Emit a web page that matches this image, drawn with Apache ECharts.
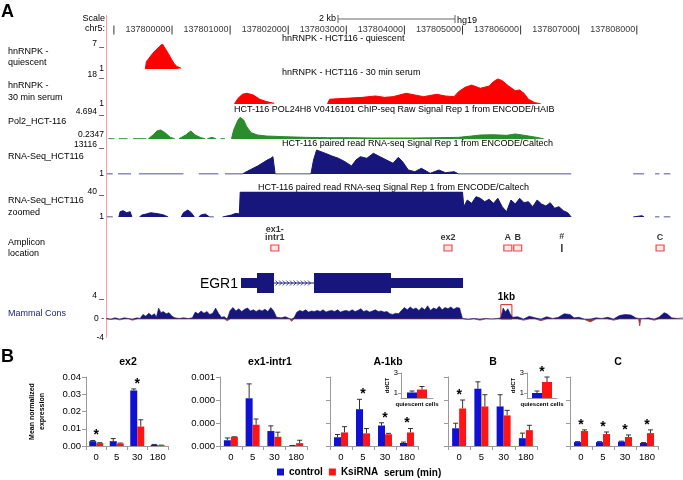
<!DOCTYPE html>
<html><head><meta charset="utf-8">
<script src="https://cdn.jsdelivr.net/npm/echarts@6/dist/echarts.min.js"></script>
<style>html,body{margin:0;padding:0;background:#fff}#c{width:683px;height:480px}</style>
</head><body><div id="c"></div>
<script>
// ================= DATA =================
// genome positions are in kb relative to chr5:137,800,000 (hg19)
const rulerTicksKb = [-1, 0, 1, 2, 3, 4, 5, 6, 7, 8];
const rulerLabels = ['', '137800000', '137801000', '137802000', '137803000', '137804000', '137805000', '137806000', '137807000', '137808000'];
const scaleBarKb = [2.857, 4.871];

const quiescentSegments = [
  [[-0.458,1],[-0.442,2.75],[-0.330,4.8],[-0.217,6.4],[-0.165,7],[-0.067,4.8],[0.031,2.4],[0.084,1.6],[0.158,1.2]]
];
const serum30Segments = [
  [[1.076,1.2],[1.136,4.3],[1.212,6.7],[1.286,7.3],[1.399,6.3],[1.511,3.8],[1.625,2.4],[1.759,1.4]],
  [[2.676,1.2],[2.714,3.8],[2.978,4.3],[3.277,4.9],[3.503,5.7],[3.654,4.9],[3.804,5.3],[4.030,7.3],[4.179,6.3],[4.331,5.3],[4.556,6.7],[4.706,5.7],[4.855,5.3],[4.931,8.2],[5.045,10.8],[5.157,12.1],[5.306,10.2],[5.458,11.5],[5.532,14.1],[5.607,15.7],[5.683,14.7],[5.795,11.5],[5.908,8.8],[5.984,9.2],[6.058,7.3],[6.134,3.8],[6.246,1.8],[6.344,1.2]]
];
const pol2Segments = [
  [[-1.096,0.28],[-0.991,0.28]],
  [[-0.916,0.28],[-0.765,0.28]],
  [[-0.668,0.28],[-0.442,0.28]],
  [[-0.405,0.28],[-0.329,0.89],[-0.254,1.6],[-0.194,1.72],[-0.119,1.27],[-0.029,0.51],[0.046,0.28]],
  [[0.121,0.28],[0.234,0.89],[0.324,1.55],[0.400,0.89],[0.497,0.45],[0.572,0.28]],
  [[0.610,0.28],[0.685,0.51],[0.760,0.28]],
  [[0.836,0.28],[0.911,0.28]],
  [[1.023,0.28],[1.061,1.72],[1.136,3.37],[1.174,3.81],[1.234,3.37],[1.287,2.26],[1.362,1.27],[1.474,0.89],[1.625,0.73],[1.925,0.62],[2.301,0.51],[2.677,0.45],[3.053,0.45],[3.429,0.40],[3.804,0.40],[4.180,0.40],[4.556,0.45],[4.932,0.51],[5.157,0.73],[5.308,0.89],[5.533,0.94],[5.758,0.84],[5.909,1.06],[6.059,0.84],[6.209,0.62],[6.397,0.28]]
];
const rnaSeqSegments = [
  [[-1.119,1],[-1.021,1]],
  [[-0.931,1],[-0.705,1]],
  [[-0.570,1],[0.197,1]],
  [[0.460,1],[0.798,1]],
  [[0.911,1],[1.211,1],[1.249,588],[1.362,2125],[1.474,3617],[1.550,4837],[1.640,6330],[1.700,7090],[1.737,7820],[1.760,7548],[1.775,1],[2.391,1],[2.436,6330],[2.489,10850],[2.564,10080],[2.639,9350],[2.752,8140],[2.865,7090],[2.978,5560],[3.090,3617],[3.166,6330],[3.241,7820],[3.353,7090],[3.466,9350],[3.579,7820],[3.692,6330],[3.804,4837],[3.895,7548],[3.970,5560],[4.067,1808],[4.180,1040],[4.293,2580],[4.443,300],[4.594,1808],[4.706,588],[4.857,1040],[4.932,1],[6.871,1]],
  [[7.938,1],[8.126,1]],
  [[8.314,1],[8.389,1]],
  [[8.464,1],[8.577,1]]
];
const rnaSeqZoomSegments = [
  [[-1.12,1],[-1.02,1]],
  [[-0.915,1],[-0.893,9.3],[-0.841,10.8],[-0.780,7.7],[-0.720,9.3],[-0.690,1]],
  [[-0.560,1],[-0.517,4.1],[-0.442,5.7],[-0.367,7.7],[-0.292,6.7],[-0.217,5.7],[-0.141,4.1],[-0.066,1]],
  [[0.159,1],[0.197,7.7],[0.272,11.9],[0.332,7.7],[0.385,1]],
  [[0.460,1],[0.497,4.1],[0.572,5.7],[0.648,1],[0.720,1]],
  [[0.870,1],[1.023,4.1],[1.099,6.7],[1.159,5.7],[1.174,40],[5.000,40],[5.022,17.1],[5.082,27.5],[5.157,22.3],[5.232,32.7],[5.308,30.1],[5.383,24.9],[5.458,28.6],[5.533,22.3],[5.608,30.1],[5.683,17.1],[5.758,9.3],[5.834,27.5],[5.909,21.3],[5.984,30.1],[6.059,23.3],[6.134,24.9],[6.209,17.1],[6.285,27.5],[6.360,21.3],[6.435,18.2],[6.510,23.3],[6.585,14.6],[6.660,17.1],[6.736,10.8],[6.811,7.7],[6.871,1]],
  [[7.938,1],[7.960,4.1],[8.088,3],[8.126,1]],
  [[8.314,1],[8.389,1]],
  [[8.464,1],[8.577,1]]
];
const ampliconNames = ['ex1-\nintr1', 'ex2', 'A', 'B', '#', 'C'];
const ampliconKb = [1.77, 4.75, 5.78, 5.95, 6.71, 8.40];
// EGR1 gene model: [startKb, endKb, kind] kind 0 = UTR, 1 = coding exon, 2 = intron
const egr1Parts = [[1.188,1.463,0],[1.463,1.756,1],[1.756,2.444,2],[2.444,3.769,1],[3.769,5.009,0]];
const consSignal = [[-1.13,0.1],[-1.05,-0.1],[-0.98,0.2],[-0.9,-0.15],[-0.82,0.2],[-0.75,0.1],[-0.68,-0.2],[-0.6,0.2],[-0.55,0.1],
  [-0.5,0.8],[-0.45,0.5],[-0.4,1.0],[-0.35,0.6],[-0.3,0.9],[-0.27,0.3],[-0.23,1.9],[-0.19,1.1],[-0.15,1.3],[-0.1,0.9],[-0.05,1.1],[0.0,0.5],[0.05,0.2],[0.12,0.1],[0.2,0.2],[0.28,0.1],[0.35,0.2],
  [0.4,1.2],[0.45,0.9],[0.5,1.4],[0.55,1.0],[0.6,1.3],[0.65,0.8],[0.7,1.0],[0.75,1.9],[0.8,1.0],[0.85,0.3],[0.9,0.4],[0.95,-0.3],
  [1.0,1.5],[1.05,2.0],[1.1,1.4],[1.15,1.8],[1.2,1.3],[1.25,1.7],[1.3,1.9],[1.35,1.4],[1.4,1.6],[1.45,1.3],[1.5,1.6],[1.55,1.4],[1.6,1.7],[1.65,1.3],[1.7,2.0],[1.75,1.4],
  [1.8,0.3],[1.88,0.2],[1.95,0.4],[2.02,0.1],[2.06,-0.4],[2.1,0.2],
  [2.15,1.2],[2.2,1.5],[2.25,1.3],[2.3,1.6],[2.35,1.2],[2.4,1.4],[2.45,1.3],[2.5,1.5],[2.55,1.3],[2.6,1.6],[2.65,1.2],[2.7,1.4],[2.75,1.5],[2.8,1.3],[2.85,1.6],[2.9,1.2],[2.95,1.4],[3.0,1.5],[3.05,1.3],[3.1,1.6],[3.15,1.3],[3.2,1.5],[3.25,1.8],[3.3,1.3],[3.35,1.5],[3.4,1.2],[3.45,1.4],[3.5,1.6],[3.55,1.3],[3.6,1.4],[3.65,1.2],[3.7,1.3],[3.75,0.9],[3.8,0.8],[3.85,1.0],[3.9,0.9],
  [3.96,1.6],[4.0,2.0],[4.05,1.6],[4.1,2.1],[4.15,1.7],[4.2,1.9],[4.25,1.5],[4.3,2.0],[4.35,1.6],[4.4,2.3],[4.45,1.5],[4.5,1.9],[4.55,1.7],[4.6,2.2],[4.65,1.6],[4.7,2.0],[4.75,1.8],[4.8,2.1],[4.85,1.7],[4.9,2.0],[4.95,1.9],
  [5.0,0.1],[5.1,-0.1],[5.2,0.1],[5.3,-0.2],[5.4,0.1],[5.5,0.0],[5.6,0.1],[5.66,0.2],
  [5.7,1.9],[5.74,1.2],[5.78,1.8],[5.82,0.9],[5.86,0.3],
  [5.95,0.4],[6.05,-0.2],[6.15,0.5],[6.25,0.2],[6.35,-0.3],[6.45,0.4],[6.55,0.1],[6.65,0.3],
  [6.75,0.9],[6.85,0.8],[6.92,0.2],[7.0,0.3],[7.1,-0.1],[7.2,-0.5],[7.3,0.2],[7.4,0.1],[7.5,0.3],[7.6,-0.2],
  [7.7,0.6],[7.8,0.8],[7.9,0.7],[7.98,0.2],[8.03,0.1],[8.05,-1.2],[8.07,0.1],[8.12,0.1],[8.2,0.2],[8.3,-0.2],[8.38,0.3],[8.47,1.1],[8.52,0.9],[8.6,0.2],[8.7,0.1],[8.8,0.2]];
const oneKbRegion = [5.66, 5.85];
const oneKbPeak = 2.5;

// ---- panel B: qPCR ----
const timeCats = ['0', '5', '30', '180'];
const ex2Control = [0.0028, 0.0028, 0.0322, 0.0007];
const ex2ControlErr = [0.0032, 0.0043, 0.0331, 0.0009];
const ex2KsiRNA = [0.0017, 0.0015, 0.0113, 0.0004];
const ex2KsiRNAErr = [0.0019, 0.0017, 0.0152, 0.0005];
const ex2Sig = ['0', '30'];
const ex1Control = [0.0001, 0.00083, 0.00026, 0.00001];
const ex1ControlErr = [0.00014, 0.00108, 0.00035, 0.00001];
const ex1KsiRNA = [0.00016, 0.00037, 0.00016, 0.00005];
const ex1KsiRNAErr = [0.00016, 0.00047, 0.00024, 0.0001];
const ex1Sig = [];
const a1kbControl = [0.38, 1.6, 0.89, 0.13];
const a1kbControlErr = [0.5, 2.03, 1.01, 0.17];
const a1kbKsiRNA = [0.59, 0.55, 0.51, 0.59];
const a1kbKsiRNAErr = [0.84, 0.76, 0.55, 0.76];
const a1kbSig = ['5', '30', '180'];
const bControl = [0.77, 2.49, 1.72, 0.34];
const bControlErr = [0.99, 2.79, 2.23, 0.56];
const bKsiRNA = [1.63, 1.72, 1.33, 0.69];
const bKsiRNAErr = [2.0, 2.23, 1.55, 0.9];
const bSig = ['0'];
const cControl = [0.17, 0.17, 0.19, 0.13];
const cControlErr = [0.19, 0.19, 0.21, 0.15];
const cKsiRNA = [0.65, 0.52, 0.39, 0.56];
const cKsiRNAErr = [0.7, 0.61, 0.48, 0.7];
const cSig = ['0', '5', '30', '180'];
const insetCats = ['quiescent cells'];
const insetAControl = [1.05], insetAControlErr = [1.2], insetAKsiRNA = [1.35], insetAKsiRNAErr = [1.65], insetASig = [];
const insetBControl = [1.0], insetBControlErr = [1.2], insetBKsiRNA = [2.1], insetBKsiRNAErr = [2.6], insetBSig = ['quiescent cells'];

// ================= CHART =================
const FONT = '"Liberation Sans", Arial, Helvetica, sans-serif';
const NAVY = '#16167c', TRED = '#ff0000', GREEN = '#2a8c2a', BLUE = '#1111d6', BRED = '#ff1414', AXG = '#9a9a9a';
const KB_MIN = -1.136, KB_MAX = 8.795;
const chart = echarts.init(document.getElementById('c'));
const grid = [], xAxis = [], yAxis = [], series = [];
function addGrid(g, xa, ya) {
  const i = grid.length;
  grid.push(Object.assign({outerBoundsMode: 'none', containLabel: false}, g));
  xAxis.push(Object.assign({gridIndex: i}, xa));
  yAxis.push(Object.assign({gridIndex: i}, ya));
  return i;
}
const genomeX = () => ({type: 'value', min: KB_MIN, max: KB_MAX, show: false});
const hiddenY = () => ({type: 'value', min: 0, max: 1, show: false});
function trackY(min, max, maxTxt, minTxt, minBottom) {
  const lab = {show: true, customValues: [min, max], fontSize: 8.5, color: '#000', margin: 2, fontFamily: FONT,
      formatter: v => Math.abs(v - max) < 1e-9 ? maxTxt : minTxt};
  if (minBottom) lab.verticalAlignMinLabel = 'bottom';
  return {type: 'value', min, max, axisLine: {show: false}, axisTick: {show: false}, splitLine: {show: false}, axisLabel: lab};
}
function areaSeries(gi, segs, color) {
  segs.forEach(d => series.push({type: 'line', xAxisIndex: gi, yAxisIndex: gi, data: d, symbol: 'none', silent: true,
    lineStyle: {color, width: 1}, areaStyle: {color, opacity: 1, origin: 'start'}, clip: true}));
}
const G = {left: 106, right: 0};
// scale bar
const gScale = addGrid(Object.assign({top: 14, height: 10}, G), genomeX(), hiddenY());
series.push({type: 'line', xAxisIndex: gScale, yAxisIndex: gScale, data: scaleBarKb.map(k => [k, 0.5]), symbol: 'rect', symbolSize: [1, 8],
  itemStyle: {color: '#666'}, lineStyle: {color: '#666', width: 1}, silent: true});
// ruler
const gRuler = addGrid(Object.assign({top: 24, height: 12}, G), genomeX(), hiddenY());
series.push({type: 'scatter', xAxisIndex: gRuler, yAxisIndex: gRuler, symbol: 'rect', symbolSize: [1, 9], itemStyle: {color: '#000'}, silent: true,
  data: rulerTicksKb.map((k, i) => ({value: [k, 0.5], name: rulerLabels[i]})),
  label: {show: true, position: 'left', distance: 1, formatter: p => p.name, fontSize: 9, color: '#000', fontFamily: FONT}});
// tracks
const g1 = addGrid(Object.assign({top: 44, height: 25}, G), genomeX(), trackY(1, 7, '7 _', '1'));
areaSeries(g1, quiescentSegments, TRED);
const g2 = addGrid(Object.assign({top: 75, height: 29}, G), genomeX(), trackY(1, 18, '18 _', '1'));
areaSeries(g2, serum30Segments, TRED);
const g3 = addGrid(Object.assign({top: 112, height: 27}, G), genomeX(), trackY(0.2347, 4.694, '4.694 _', '0.2347', true));
areaSeries(g3, pol2Segments, GREEN);
const g4 = addGrid(Object.assign({top: 145, height: 29}, G), genomeX(), trackY(1, 13116, '13116 _', '1'));
areaSeries(g4, rnaSeqSegments, NAVY);
const g5 = addGrid(Object.assign({top: 192, height: 25}, G), genomeX(), trackY(1, 40, '40 _', '1'));
areaSeries(g5, rnaSeqZoomSegments, NAVY);
// amplicons
const gAmp = addGrid(Object.assign({top: 240, height: 16}, G), genomeX(), hiddenY());
series.push({type: 'scatter', xAxisIndex: gAmp, yAxisIndex: gAmp, silent: true,
  data: ampliconKb.map((k, i) => {
    const isRef = ampliconNames[i] === '#';
    return {value: [k, 0.5], name: ampliconNames[i], symbol: 'rect', symbolSize: isRef ? [1.5, 8] : [8, 6],
      itemStyle: isRef ? {color: '#000'} : {color: 'rgba(255,190,190,0.5)', borderColor: '#e81c1c', borderWidth: 1}};
  }),
  label: {show: true, position: 'top', distance: 3, formatter: p => p.name, fontSize: 9, lineHeight: 8, fontWeight: 'bold', color: '#000', fontFamily: FONT}});
// gene
const gGene = addGrid(Object.assign({top: 270, height: 26}, G), genomeX(), hiddenY());
series.push({type: 'custom', xAxisIndex: gGene, yAxisIndex: gGene, silent: true, data: egr1Parts, encode: {x: [0, 1]},
  renderItem: (params, api) => {
    const a = api.coord([api.value(0), 0.5]), b = api.coord([api.value(1), 0.5]), kind = api.value(2);
    const y = a[1];
    if (kind === 2) {
      const kids = [{type: 'line', shape: {x1: a[0], y1: y, x2: b[0], y2: y}, style: {stroke: NAVY, lineWidth: 1}}];
      for (let x = a[0] + 3; x < a[0] + (b[0] - a[0]) * 0.9; x += 3.6)
        kids.push({type: 'polyline', shape: {points: [[x - 1.5, y - 2.5], [x + 1, y], [x - 1.5, y + 2.5]]}, style: {stroke: NAVY, fill: null, lineWidth: 0.8}});
      return {type: 'group', children: kids};
    }
    const h = kind === 1 ? 20 : 10;
    return {type: 'rect', shape: {x: a[0], y: y - h / 2, width: b[0] - a[0], height: h}, style: {fill: NAVY}};
  }});
// conservation
const gCons = addGrid(Object.assign({top: 296, height: 46}, G), genomeX(),
  {type: 'value', min: -4, max: 4, axisLine: {show: false}, axisTick: {show: false}, splitLine: {show: false},
   axisLabel: {show: true, customValues: [-4, 0, 4], fontSize: 8.5, color: '#000', margin: 2, fontFamily: FONT, verticalAlignMinLabel: 'bottom',
     formatter: v => v > 0 ? '4 _' : (v < 0 ? '-4' : '0 -')}});
series.push({type: 'line', xAxisIndex: gCons, yAxisIndex: gCons, data: consSignal.map(([k, v]) => [k, Math.max(v, 0)]), symbol: 'none', silent: true,
  lineStyle: {color: NAVY, width: 0.6}, areaStyle: {color: NAVY, opacity: 1},
  markArea: {silent: true, itemStyle: {color: 'rgba(0,0,0,0)', borderColor: '#e02020', borderWidth: 1},
    label: {show: true, position: 'top', distance: 2, formatter: '1kb', fontSize: 10, fontWeight: 'bold', color: '#000', fontFamily: FONT},
    data: [[{xAxis: oneKbRegion[0], yAxis: 0}, {xAxis: oneKbRegion[1], yAxis: oneKbPeak}]]}});
series.push({type: 'line', xAxisIndex: gCons, yAxisIndex: gCons, data: consSignal.map(([k, v]) => [k, Math.min(v, 0)]), symbol: 'none', silent: true,
  lineStyle: {color: '#9b3b2b', width: 0.7}, areaStyle: {color: '#9b3b2b', opacity: 1}});

// ---- bottom panels ----
function errSeries(gi, data, off) {
  return {type: 'custom', xAxisIndex: gi, yAxisIndex: gi, silent: true, data, encode: {x: 0, y: [1, 2]},
    renderItem: (params, api) => {
      const t = api.coord([api.value(0), api.value(1)]), b = api.coord([api.value(0), api.value(2)]);
      const x = t[0] + off;
      return {type: 'group', children: [
        {type: 'line', shape: {x1: x, y1: b[1], x2: x, y2: t[1]}, style: {stroke: '#333', lineWidth: 1}},
        {type: 'line', shape: {x1: x - 2.5, y1: t[1], x2: x + 2.5, y2: t[1]}, style: {stroke: '#333', lineWidth: 1}}]};
    }};
}
function starSeries(gi, data) {
  return {type: 'custom', xAxisIndex: gi, yAxisIndex: gi, silent: true, data, encode: {x: 0, y: 1},
    renderItem: (params, api) => {
      const p = api.coord([api.value(0), api.value(1)]);
      return {type: 'text', x: p[0], y: p[1] - 5, style: {text: '*', fontSize: 14, fontWeight: 'bold', fontFamily: FONT, fill: '#000', align: 'center', verticalAlign: 'middle'}};
    }};
}
function panel(g, cats, ctrl, ctrlErr, k, kErr, sig, bw, ya) {
  const many = cats.length > 1;
  const gi = addGrid(g,
    {type: 'category', data: cats, axisLine: {show: true, lineStyle: {color: AXG}}, axisTick: {show: many, length: 4, interval: 0, lineStyle: {color: AXG}},
     axisLabel: {interval: 0, fontSize: many ? 9.5 : 6, fontWeight: many ? 'normal' : 'bold', color: '#000', margin: many ? 6 : 3, fontFamily: FONT}},
    Object.assign({type: 'value', axisLine: {show: true, lineStyle: {color: AXG}}, axisTick: {show: true, length: 4, lineStyle: {color: AXG}}, splitLine: {show: false}}, ya));
  series.push({type: 'bar', name: 'control', xAxisIndex: gi, yAxisIndex: gi, data: ctrl, barWidth: bw, barGap: '0%', itemStyle: {color: BLUE}, silent: true});
  series.push({type: 'bar', name: 'KsiRNA', xAxisIndex: gi, yAxisIndex: gi, data: k, barWidth: bw, barGap: '0%', itemStyle: {color: BRED}, silent: true});
  series.push(errSeries(gi, ctrl.map((v, i) => [i, ctrlErr[i], v]), -bw / 2));
  series.push(errSeries(gi, k.map((v, i) => [i, kErr[i], v]), bw / 2));
  series.push(starSeries(gi, sig.map(c => { const i = cats.indexOf(c); return [i, Math.max(ctrlErr[i], kErr[i])]; })));
  return gi;
}
const BT = 377, BH = 69;
const noLab = {min: 0, max: 3, interval: 1, axisLabel: {show: false}};
panel({left: 86, top: BT, width: 82, height: BH}, timeCats, ex2Control, ex2ControlErr, ex2KsiRNA, ex2KsiRNAErr, ex2Sig, 7,
  {min: 0, max: 0.04, interval: 0.01, axisLabel: {fontSize: 9.5, color: '#000', margin: 5, fontFamily: FONT, formatter: v => v.toFixed(2)},
   name: 'Mean normalized\nexpression', nameLocation: 'middle', nameGap: 39, nameRotate: 90,
   nameTextStyle: {fontSize: 7, fontWeight: 'bold', lineHeight: 10, color: '#000', fontFamily: FONT}});
panel({left: 220, top: BT, width: 87, height: BH}, timeCats, ex1Control, ex1ControlErr, ex1KsiRNA, ex1KsiRNAErr, ex1Sig, 7,
  {min: 0, max: 0.0012, interval: 0.0004, axisLabel: {fontSize: 9.5, color: '#000', margin: 5, fontFamily: FONT,
   formatter: v => (Math.floor(v * 1000 + 1e-9) / 1000).toFixed(3)}});
panel({left: 330, top: BT, width: 88, height: BH}, timeCats, a1kbControl, a1kbControlErr, a1kbKsiRNA, a1kbKsiRNAErr, a1kbSig, 7, noLab);
panel({left: 448, top: BT, width: 89, height: BH}, timeCats, bControl, bControlErr, bKsiRNA, bKsiRNAErr, bSig, 7, noLab);
panel({left: 570, top: BT, width: 88, height: BH}, timeCats, cControl, cControlErr, cKsiRNA, cKsiRNAErr, cSig, 7, noLab);
const insetY = {min: 0.5, max: 3, axisTick: {show: true, length: 3, lineStyle: {color: AXG}, customValues: [1, 3]},
  axisLabel: {customValues: [1, 3], fontSize: 7.5, color: '#000', margin: 3, fontFamily: FONT},
  name: 'ddCT', nameLocation: 'middle', nameGap: 10, nameRotate: 90, nameTextStyle: {fontSize: 6, fontWeight: 'bold', color: '#000', fontFamily: FONT}};
panel({left: 401, top: 373, width: 32, height: 25}, insetCats, insetAControl, insetAControlErr, insetAKsiRNA, insetAKsiRNAErr, insetASig, 10, insetY);
panel({left: 527, top: 373, width: 30, height: 25}, insetCats, insetBControl, insetBControlErr, insetBKsiRNA, insetBKsiRNAErr, insetBSig, 10, insetY);

// ---- texts ----
function T(x, y, text, o) {
  o = o || {};
  return {type: 'text', x, y, silent: true, style: {text, fill: o.color || '#000', fontSize: o.size || 9, fontWeight: o.bold ? 'bold' : 'normal',
    fontFamily: FONT, align: o.align || 'left', verticalAlign: 'middle'}};
}
const graphic = [
  {type: 'line', silent: true, shape: {x1: 106.5, y1: 15, x2: 106.5, y2: 338}, style: {stroke: '#f2a0a0', lineWidth: 1}},
  T(1, 12, 'A', {size: 18, bold: true}),
  T(105, 19, 'Scale', {align: 'right'}), T(105, 29, 'chr5:', {align: 'right'}),
  T(336, 19, '2 kb', {align: 'right'}), T(457, 21, 'hg19'),
  T(282, 39, 'hnRNPK - HCT116 - quiescent'),
  T(282, 73, 'hnRNPK - HCT116 - 30 min serum'),
  T(234, 110, 'HCT-116 POL24H8 V0416101 ChIP-seq Raw Signal Rep 1 from ENCODE/HAIB'),
  T(282, 144, 'HCT-116 paired read RNA-seq Signal Rep 1 from ENCODE/Caltech'),
  T(258, 188, 'HCT-116 paired read RNA-seq Signal Rep 1 from ENCODE/Caltech'),
  T(8, 52, 'hnRNPK -'), T(8, 63, 'quiescent'),
  T(8, 86, 'hnRNPK -'), T(8, 98, '30 min serum'),
  T(8, 122, 'Pol2_HCT-116'),
  T(8, 157, 'RNA-Seq_HCT116'),
  T(8, 201, 'RNA-Seq_HCT116'), T(8, 213, 'zoomed'),
  T(8, 243, 'Amplicon'), T(8, 254, 'location'),
  T(8, 314, 'Mammal Cons', {color: '#1a1a8c'}),
  T(238, 284, 'EGR1', {size: 14, align: 'right'}),
  T(1, 357, 'B', {size: 18, bold: true}),
  T(128, 362, 'ex2', {size: 10.5, bold: true, align: 'center'}),
  T(270, 362, 'ex1-intr1', {size: 10.5, bold: true, align: 'center'}),
  T(388, 362, 'A-1kb', {size: 10.5, bold: true, align: 'center'}),
  T(493, 362, 'B', {size: 10.5, bold: true, align: 'center'}),
  T(618, 362, 'C', {size: 10.5, bold: true, align: 'center'}),
  T(384, 473, 'serum (min)', {size: 10, bold: true})
];

chart.setOption({
  animation: false,
  textStyle: {fontFamily: FONT},
  grid, xAxis, yAxis, series, graphic,
  legend: {data: ['control', 'KsiRNA'], left: 277, top: 467, icon: 'rect', itemWidth: 7, itemHeight: 7, itemGap: 6, padding: 0,
    selectedMode: false, textStyle: {fontSize: 10, fontWeight: 'bold', color: '#000', fontFamily: FONT}}
});
</script></body></html>
